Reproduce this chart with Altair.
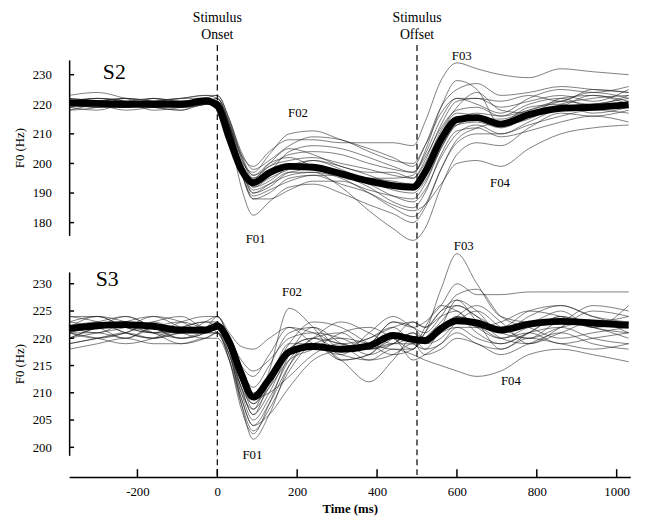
import altair as alt
import pandas as pd

FONT = "Liberation Serif"

# ---- data ----
T = [-371, -300, -230, -160, -90, -30, 0, 30, 60, 90, 130, 180, 240, 310, 380,
     440, 490, 520, 560, 600, 650, 710, 780, 860, 940, 1030]

S2_MEAN = [220.5, 220.3, 220.0, 220.0, 220.0, 221.2, 219.5, 208.5, 198.0, 193.5, 196.8, 199.0,
           198.7, 196.5, 194.0, 192.5, 192.0, 197.0, 208.0, 214.8, 215.5, 213.3, 216.5, 218.6,
           219.0, 219.8]

S2_TRIALS = [
    [222, 221, 219, 221, 222, 223, 222, 214, 203, 199, 204, 208, 208, 207, 207, 207, 206, 214, 228, 234, 232, 230, 229, 232, 231, 230],
    [219, 218, 220, 219, 218, 220, 220, 210, 192, 182.5, 187, 192, 193, 190, 186, 183, 180, 185, 198, 208, 212, 214, 216, 218, 220, 219],
    [221, 222, 221, 219, 218, 221, 221, 212, 198, 190, 193, 197, 197, 192, 184, 178, 174, 178, 192, 203, 207, 206, 212, 217, 216, 218],
    [218, 219, 222, 221, 219, 220, 221, 211, 197, 188, 190, 195, 196, 193, 190, 186, 184, 186, 193, 200, 201, 199, 205, 210, 212, 213],
    [220, 221, 220, 222, 221, 222, 221, 213, 201, 197, 203, 210, 211, 208, 205, 202, 199, 206, 219, 225, 227, 223, 224, 226, 225, 224],
    [220, 219, 219, 220, 221, 221, 220, 212, 200, 194, 198, 200, 199, 197, 195, 195, 196, 204, 219, 228, 225, 213, 215, 220, 222, 223],
    [223, 224, 222, 220, 221, 222, 223, 215, 203, 196, 199, 203, 204, 203, 200, 198, 197, 202, 212, 218, 219, 216, 218, 221, 224, 222],
    [219, 220, 221, 222, 220, 220, 221, 212, 199, 192, 195, 198, 201, 199, 196, 193, 191, 196, 208, 215, 217, 216, 220, 222, 219, 221],
    [221, 220, 218, 219, 220, 221, 220, 211, 197, 189, 191, 194, 196, 196, 193, 189, 187, 191, 202, 210, 213, 210, 213, 216, 218, 217],
    [220, 222, 221, 218, 219, 221, 221, 213, 202, 195, 200, 205, 203, 199, 197, 197, 195, 201, 213, 221, 222, 219, 221, 223, 221, 225],
    [222, 221, 220, 221, 222, 222, 221, 212, 199, 191, 193, 196, 197, 195, 190, 185, 182, 186, 198, 207, 210, 210, 214, 219, 223, 221],
    [219, 221, 222, 220, 219, 220, 222, 214, 202, 196, 200, 202, 199, 196, 195, 194, 193, 198, 210, 217, 216, 214, 219, 220, 217, 219],
    [221, 219, 220, 221, 219, 220, 220, 211, 198, 193, 197, 204, 206, 205, 202, 199, 197, 203, 215, 222, 220, 217, 222, 225, 224, 226],
    [220, 219, 219, 220, 220, 221, 221, 212, 199, 190, 192, 197, 198, 196, 192, 187, 185, 190, 203, 211, 212, 209, 211, 214, 216, 214],
    [221, 222, 221, 221, 222, 223, 223, 215, 204, 198, 201, 206, 209, 208, 204, 201, 200, 206, 217, 222, 222, 221, 223, 221, 225, 224],
    [218, 220, 221, 219, 220, 221, 220, 211, 197, 188, 188, 191, 194, 194, 191, 189, 188, 193, 205, 213, 214, 212, 216, 219, 220, 222],
    [220, 221, 222, 221, 220, 221, 221, 213, 200, 195, 199, 201, 202, 200, 198, 196, 195, 200, 211, 219, 224, 218, 217, 222, 223, 220],
    [221, 220, 219, 222, 221, 221, 222, 213, 199, 192, 194, 199, 201, 198, 194, 191, 190, 194, 205, 213, 215, 215, 218, 221, 220, 223],
]

S3_MEAN = [221.8, 222.3, 222.5, 222.2, 221.5, 221.5, 222.2, 219.3, 213.5, 209.2, 212.5, 217.5,
           218.5, 218.0, 218.6, 220.5, 219.8, 219.6, 221.8, 223.2, 222.8, 221.5, 222.6, 223.1,
           222.8, 222.4]

S3_TRIALS = [
    [220, 222, 224, 222, 220, 221, 223, 218, 208, 201.5, 206, 215, 220, 221, 218, 219, 221, 220, 222, 224, 223, 221, 220, 222, 223, 221],
    [223, 224, 222, 221, 223, 224, 224, 221, 218.5, 218, 220, 222, 221, 219, 220, 222, 223, 222, 225, 226, 224, 222, 225, 226, 224, 223],
    [221, 220, 221, 223, 224, 222, 222, 217, 210, 207, 214, 225.5, 222, 216, 217, 221, 220, 219, 221, 224, 221, 219, 221, 224, 222, 221],
    [222, 223, 221, 220, 221, 222, 222, 218, 211, 206, 210, 217, 219, 216, 212, 216, 220, 219, 221, 222, 220, 219, 221, 222, 220, 219],
    [222, 221, 223, 224, 222, 221, 221, 218, 212, 208, 212, 218, 220, 219, 218, 219, 219, 221, 229, 235.5, 230, 224, 223, 225, 222, 223],
    [221, 222, 222, 221, 220, 221, 221, 217, 209, 204, 208, 215, 219, 217, 216, 218, 217, 216, 215, 214, 213, 214, 217, 218, 217, 215.7],
    [222, 224, 223, 221, 222, 223, 223, 219, 214, 211, 215, 221, 222, 218, 219, 223, 222, 223, 226, 230, 228, 228, 228.5, 228.5, 228.5, 228.5],
    [219, 220, 221, 223, 221, 220, 221, 216, 208, 203, 207, 214, 219, 220, 219, 218, 218, 221, 225, 227, 225, 221, 224, 226, 224, 222],
    [224, 223, 221, 220, 222, 223, 222, 219, 213, 210, 213, 219, 223, 222, 219, 217, 218, 220, 223, 226, 224, 220, 219, 222, 225, 224],
    [218, 219, 220, 219, 219, 220, 221, 216, 207, 202.5, 208, 217, 222, 219, 216, 217, 219, 217, 218, 220, 219, 217, 219, 221, 219, 218],
    [223, 222, 220, 222, 223, 222, 224, 220, 215, 213, 217, 222, 219, 217, 221, 224, 222, 221, 224, 228, 229, 224, 222, 220, 221, 222],
    [220, 221, 222, 224, 223, 221, 222, 218, 210, 205, 209, 216, 220, 223, 221, 219, 220, 218, 219, 222, 222, 220, 222, 223, 226, 225],
    [221, 220, 219, 220, 222, 222, 221, 217, 211, 208, 211, 216, 218, 221, 222, 220, 218, 222, 226, 225, 222, 220, 221, 219, 220, 221],
    [222, 223, 224, 222, 220, 221, 223, 219, 213, 209, 210, 213, 217, 219, 217, 219, 221, 219, 220, 223, 225, 222, 220, 223, 222, 220],
    [220, 222, 223, 221, 219, 220, 220, 216, 209, 204, 206, 211, 216, 218, 220, 222, 219, 218, 222, 227, 223, 218, 221, 224, 223, 224],
    [224, 224, 222, 221, 221, 223, 224, 220, 216, 214, 216, 220, 221, 220, 218, 220, 223, 222, 224, 225, 222, 223, 225, 224, 222, 226],
    [221, 221, 220, 222, 222, 222, 222, 218, 212, 207, 211, 218, 220, 218, 219, 223, 222, 220, 221, 224, 226, 223, 219, 221, 223, 222],
    [219, 220, 221, 220, 221, 221, 222, 218, 211, 206, 212, 219, 219, 216, 217, 220, 216, 217, 219, 221, 219, 218, 220, 219, 218, 219],
]

X_TICKS = [-200, 0, 200, 400, 600, 800, 1000]
S2_YTICKS = [180, 190, 200, 210, 220, 230]
S3_YTICKS = [200, 205, 210, 215, 220, 225, 230]
EVENT_TIMES = [0, 500]
EVENT_LABELS = ["Stimulus\nOnset", "Stimulus\nOffset"]

S2_NOTE_TEXT = ["F01", "F02", "F03", "F04"]
S2_NOTE_T = [96, 202, 612, 708]
S2_NOTE_HZ = [174.3, 217.0, 236.3, 193.3]
S3_NOTE_TEXT = ["F01", "F02", "F03", "F04"]
S3_NOTE_T = [88, 187, 617, 735]
S3_NOTE_HZ = [198.5, 228.4, 237.0, 212.1]
PANEL_NAMES = ["S2", "S3"]
PANEL_NAME_T = [-258, -276]
PANEL_NAME_HZ = [231.0, 230.9]

W = 569
H1 = 178
H2 = 186
GAP = 37
XOFF = 22


def long_df(trials):
    rows = []
    for i, tr in enumerate(trials):
        for t, v in zip(T, tr):
            rows.append({"trial": i, "t": t, "hz": v})
    return pd.DataFrame(rows)


xscale = alt.Scale(domain=[-371, 1034], nice=False, zero=False)
LBL = "'' + datum.value"


def panel(trials, mean, ydom, yticks, h, notes_text, notes_t, notes_hz,
          name, name_t, name_hz, top):
    if top:
        xenc = alt.X("t:Q", scale=xscale, axis=None)
    else:
        xenc = alt.X("t:Q", scale=xscale, axis=alt.Axis(
            values=X_TICKS, ticks=False, offset=XOFF, labelPadding=9,
            domainColor="black", domainWidth=1.5, grid=False,
            labelFont=FONT, titleFont=FONT, labelColor="black", titleColor="black",
            labelFontSize=13, labelExpr=LBL, title="Time (ms)", titleFontWeight="bold",
            titleFontSize=13, titlePadding=4, labelFlush=False))
    yenc = alt.Y("hz:Q", scale=alt.Scale(domain=ydom, nice=False, zero=False),
                 axis=alt.Axis(values=yticks, ticks=False, labelPadding=18,
                               domainColor="black", domainWidth=1.5, grid=False,
                               labelFont=FONT, titleFont=FONT, labelColor="black",
                               titleColor="black", labelExpr=LBL,
                               labelFontSize=13, title="F0 (Hz)",
                               titleFontWeight="normal", titleFontSize=13,
                               titlePadding=6))

    thin = alt.Chart(long_df(trials)).mark_line(
        interpolate="monotone", stroke="#1a1a1a", strokeWidth=0.7, opacity=0.8
    ).encode(x=xenc, y=yenc, detail="trial:N")

    mean_df = pd.DataFrame({"t": T, "hz": mean})
    thick = alt.Chart(mean_df).mark_line(
        interpolate="monotone", stroke="black", strokeWidth=7
    ).encode(x=xenc, y=yenc)

    ev = pd.DataFrame({"t": EVENT_TIMES, "label": EVENT_LABELS})
    if top:
        rules = alt.Chart(ev).mark_rule(color="black", strokeWidth=1.2, strokeDash=[6, 4]).encode(
            x=xenc, y=alt.value(-15), y2=alt.value(h + GAP))
    else:
        rules = alt.Chart(ev).mark_rule(color="black", strokeWidth=1.2, strokeDash=[6, 4]).encode(
            x=xenc, y=alt.value(0), y2=alt.value(h + XOFF))

    ytk = alt.Chart(pd.DataFrame({"hz": yticks})).mark_rule(color="black", strokeWidth=1.5).encode(
        y=yenc, x=alt.value(0), x2=alt.value(5))

    notes = alt.Chart(pd.DataFrame({"t": notes_t, "hz": notes_hz, "label": notes_text})).mark_text(
        font=FONT, fontSize=13, color="black", align="center", baseline="middle"
    ).encode(x=xenc, y=yenc, text="label:N")

    nm = alt.Chart(pd.DataFrame({"t": [name_t], "hz": [name_hz], "label": [name]})).mark_text(
        font=FONT, fontSize=22, color="black", align="center", baseline="middle"
    ).encode(x=xenc, y=yenc, text="label:N")

    layers = [thin, thick, rules, ytk, notes, nm]
    if top:
        evtext = alt.Chart(ev).mark_text(
            font=FONT, fontSize=14, color="black", align="center", baseline="alphabetic",
            lineBreak="\n", lineHeight=17
        ).encode(x=xenc, y=alt.value(-38), text="label:N")
        layers.append(evtext)
    else:
        xtk = alt.Chart(pd.DataFrame({"t": X_TICKS})).mark_rule(color="black", strokeWidth=1.5).encode(
            x=xenc, y=alt.value(h + XOFF - 8), y2=alt.value(h + XOFF))
        layers.append(xtk)

    return alt.layer(*layers).properties(width=W, height=h)


top = panel(S2_TRIALS, S2_MEAN, [175.67, 235], S2_YTICKS, H1,
            S2_NOTE_TEXT, S2_NOTE_T, S2_NOTE_HZ,
            PANEL_NAMES[0], PANEL_NAME_T[0], PANEL_NAME_HZ[0], True)
bottom = panel(S3_TRIALS, S3_MEAN, [198.53, 232.17], S3_YTICKS, H2,
               S3_NOTE_TEXT, S3_NOTE_T, S3_NOTE_HZ,
               PANEL_NAMES[1], PANEL_NAME_T[1], PANEL_NAME_HZ[1], False)

chart = alt.vconcat(top, bottom, spacing=GAP, bounds="flush").properties(
    padding={"left": 5, "top": 0, "right": 5, "bottom": 5}
).configure_view(stroke=None).configure_axis(
    labelFont=FONT, titleFont=FONT, labelColor="black", titleColor="black"
).configure_text(font=FONT)

chart.save("out.html", embed_options={"renderer": "svg", "actions": False})
